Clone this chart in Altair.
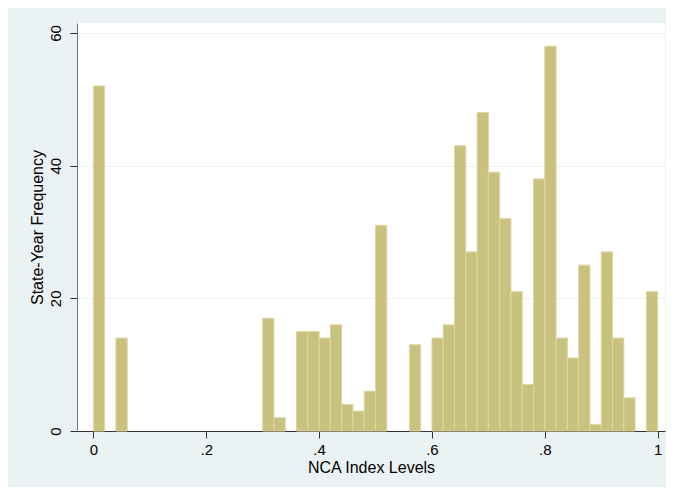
import altair as alt
import pandas as pd

# Histogram bin starts (width 0.02) and counts
bin_start = [0.00, 0.04, 0.30, 0.32, 0.36, 0.38, 0.40, 0.42, 0.44, 0.46, 0.48, 0.50,
             0.56, 0.60, 0.62, 0.64, 0.66, 0.68, 0.70, 0.72, 0.74, 0.76, 0.78, 0.80,
             0.82, 0.84, 0.86, 0.88, 0.90, 0.92, 0.94, 0.98]
counts = [52, 14, 17, 2, 15, 15, 14, 16, 4, 3, 6, 31,
          13, 14, 16, 43, 27, 48, 39, 32, 21, 7, 38, 58,
          14, 11, 25, 1, 27, 14, 5, 21]
bin_width = 0.02
x_ticks = [0, 0.2, 0.4, 0.6, 0.8, 1.0]
y_ticks = [0, 20, 40, 60]

df = pd.DataFrame({"start": bin_start, "count": counts})
df["end"] = df["start"] + bin_width

FONT = "Liberation Sans"

chart = alt.Chart(df).mark_bar(
    color="#c9c27e", stroke="#dbd6a2", strokeWidth=1
).encode(
    x=alt.X("start:Q",
            scale=alt.Scale(domain=[-0.029, 1.013], nice=False, zero=False),
            axis=alt.Axis(title="NCA Index Levels", values=x_ticks, grid=False,
                          labelExpr="datum.value == 0 ? '0' : (datum.value >= 1 ? '1' : '.' + round(datum.value * 10))",
                          tickSize=7, labelPadding=4, titlePadding=2,
                          domainColor="#333333", tickColor="#333333",
                          labelFontSize=15, titleFontSize=16, labelFont=FONT,
                          titleFont=FONT, labelColor="black", titleColor="black",
                          titleFontWeight="normal", labelFlush=False)),
    x2="end:Q",
    y=alt.Y("count:Q",
            scale=alt.Scale(domain=[0, 61.5], nice=False),
            axis=alt.Axis(title="State-Year Frequency", values=y_ticks, grid=True,
                          gridColor="#eaf2f3", gridWidth=1.2,
                          labelAngle=270, labelAlign="center", labelBaseline="bottom",
                          tickSize=7, labelPadding=7, titlePadding=3,
                          domainColor="#777777", tickColor="#333333",
                          labelFontSize=15, titleFontSize=16, labelFont=FONT,
                          titleFont=FONT, labelColor="black", titleColor="black",
                          titleFontWeight="normal", labelFlush=False)),
    y2=alt.datum(0),
).properties(
    width=588, height=408,
    autosize=alt.AutoSizeParams(type="none"),
    padding={"left": 69, "top": 15, "right": 1, "bottom": 56},
    background="#eaf2f3",
).configure_view(fill="white", stroke=None)

chart.save("out.html", embed_options={"renderer": "svg", "actions": False})
